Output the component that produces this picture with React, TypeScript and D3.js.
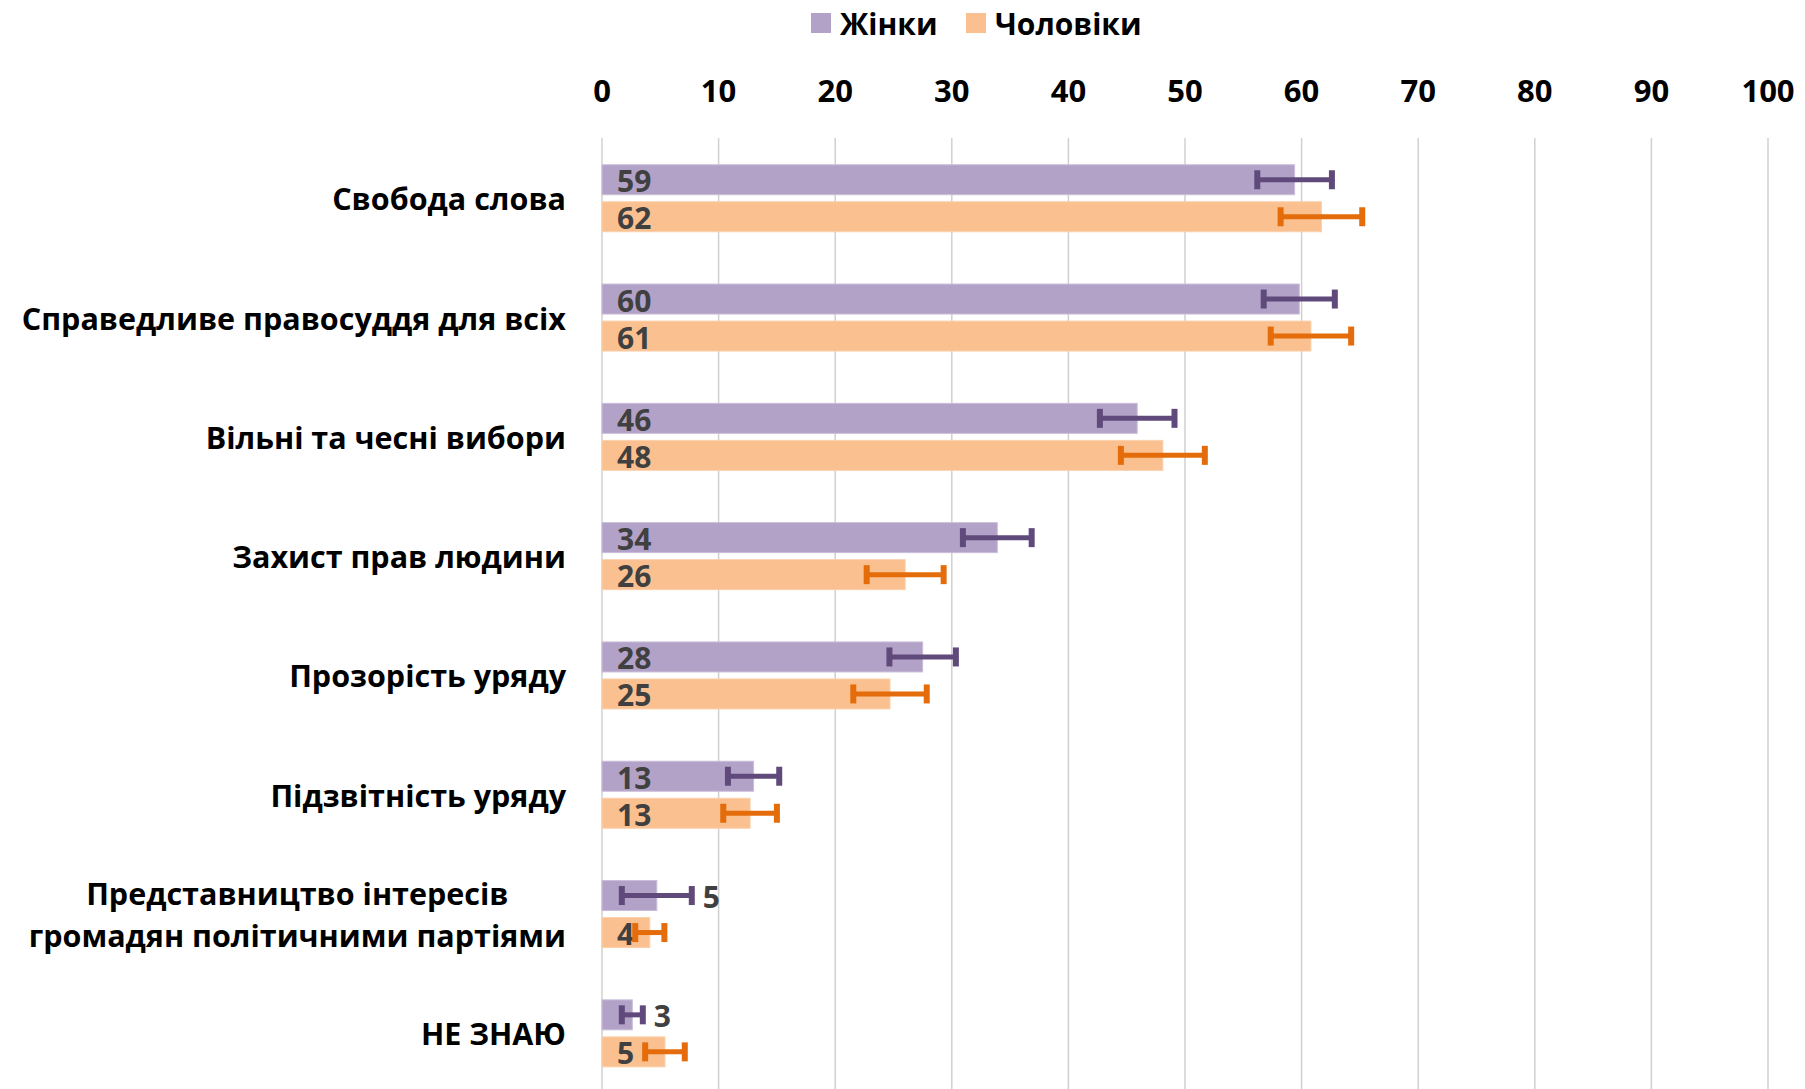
import { useEffect, useRef } from "react";
import * as d3 from "d3";

const categories = [
  ["Свобода слова"],
  ["Справедливе правосуддя для всіх"],
  ["Вільні та чесні вибори"],
  ["Захист прав людини"],
  ["Прозорість уряду"],
  ["Підзвітність уряду"],
  ["Представництво інтересів", "громадян політичними партіями"],
  ["НЕ ЗНАЮ"],
];

const seriesNames = ["Жінки", "Чоловіки"];

// bar values (as drawn) and their rounded labels
const womenValues = [59.4, 59.8, 45.9, 33.9, 27.5, 13.0, 4.7, 2.6];
const menValues = [61.7, 60.8, 48.1, 26.0, 24.7, 12.7, 4.1, 5.4];
const womenLabels = [59, 60, 46, 34, 28, 13, 5, 3];
const menLabels = [62, 61, 48, 26, 25, 13, 4, 5];

// error margins (+/-)
const womenErrors = [3.2, 3.05, 3.2, 2.95, 2.85, 2.2, 3.0, 0.9];
const menErrors = [3.5, 3.45, 3.6, 3.3, 3.15, 2.3, 1.25, 1.7];

// where the data label sits: inside the base, or past the error bar
const womenLabelPos = ["base", "base", "base", "base", "base", "base", "out", "out"];
const menLabelPos = ["base", "base", "base", "base", "base", "base", "base", "base"];

const xTicks = [0, 10, 20, 30, 40, 50, 60, 70, 80, 90, 100];

const barColors = ["#B3A2C7", "#FAC090"];
const barEdges = ["#C9BDD9", "#FBD0AC"];
const errColors = ["#604A7B", "#E46C0A"];

const FONT = "'Open Sans', 'Noto Sans', sans-serif";

export default function App() {
  const svgRef = useRef<SVGSVGElement>(null);
  const width = 1805;
  const height = 1089;

  useEffect(() => {
    if (!svgRef.current) return;
    document.body.style.margin = "0";

    const svg = d3.select(svgRef.current);
    svg.selectAll("*").remove();

    const x = d3.scaleLinear().domain([0, 100]).range([602, 1768]);

    const y = d3
      .scaleBand<number>()
      .domain(d3.range(categories.length))
      .range([138.6, 138.6 + 8 * 119.3])
      .padding(0);

    const inner = d3
      .scaleBand<number>()
      .domain([0, 1])
      .range([-33.5, 33.5])
      .paddingInner(0.19)
      .paddingOuter(0);

    const gridTop = 138;

    // Gridlines
    svg
      .append("g")
      .selectAll("line")
      .data(xTicks)
      .join("line")
      .attr("x1", (d) => x(d))
      .attr("x2", (d) => x(d))
      .attr("y1", gridTop)
      .attr("y2", height)
      .attr("stroke", "#D0D0D0")
      .attr("stroke-width", 1.5);

    // Tick labels on top
    svg
      .append("g")
      .selectAll("text")
      .data(xTicks)
      .join("text")
      .attr("x", (d) => x(d))
      .attr("y", 90)
      .attr("text-anchor", "middle")
      .attr("dominant-baseline", "central")
      .attr("font-family", FONT)
      .attr("font-weight", "bold")
      .attr("font-size", "31px")
      .attr("fill", "#000")
      .text((d) => d);

    // Category labels
    const labelRight = 566;
    categories.forEach((lines, i) => {
      const cy = y(i)! + y.bandwidth() / 2;
      const lh = 42.6;
      const g = svg.append("g");
      const texts = lines.map((ln, j) =>
        g
          .append("text")
          .attr("y", cy + (j - (lines.length - 1) / 2) * lh)
          .attr("dominant-baseline", "central")
          .attr("text-anchor", "middle")
          .attr("font-family", FONT)
          .attr("font-weight", "bold")
          .attr("font-size", "30.5px")
          .attr("fill", "#000")
          .text(ln)
      );
      const widths = texts.map((t) => (t.node() as SVGTextElement).getComputedTextLength());
      const maxW = d3.max(widths) || 0;
      texts.forEach((t) => t.attr("x", labelRight - maxW / 2));
    });

    const series = [
      { values: womenValues, labels: womenLabels, errors: womenErrors, pos: womenLabelPos },
      { values: menValues, labels: menLabels, errors: menErrors, pos: menLabelPos },
    ];

    series.forEach((s, si) => {
      const g = svg.append("g");
      s.values.forEach((v, i) => {
        const top = y(i)! + y.bandwidth() / 2 + inner(si)!;
        const bh = inner.bandwidth();
        const cy = top + bh / 2;

        g.append("rect")
          .attr("x", x(0))
          .attr("y", top)
          .attr("width", x(v) - x(0))
          .attr("height", bh)
          .attr("fill", barColors[si])
          .attr("stroke", barEdges[si])
          .attr("stroke-width", 1);

        // data label
        const lx = s.pos[i] === "out" ? x(v + s.errors[i]) + 11 : x(0) + 15;
        g.append("text")
          .attr("x", lx)
          .attr("y", cy + 1)
          .attr("dominant-baseline", "central")
          .attr("font-family", FONT)
          .attr("font-weight", "bold")
          .attr("font-size", "30px")
          .attr("fill", "#404040")
          .text(s.labels[i]);

        // error bar
        const x1 = x(v - s.errors[i]);
        const x2 = x(v + s.errors[i]);
        g.append("line")
          .attr("x1", x1)
          .attr("x2", x2)
          .attr("y1", cy)
          .attr("y2", cy)
          .attr("stroke", errColors[si])
          .attr("stroke-width", 5);
        [x1, x2].forEach((ex) => {
          g.append("line")
            .attr("x1", ex)
            .attr("x2", ex)
            .attr("y1", cy - 9.5)
            .attr("y2", cy + 9.5)
            .attr("stroke", errColors[si])
            .attr("stroke-width", 6);
        });
      });
    });

    // Legend
    const legendX = [811, 966];
    seriesNames.forEach((name, i) => {
      svg
        .append("rect")
        .attr("x", legendX[i])
        .attr("y", 13)
        .attr("width", 20)
        .attr("height", 20)
        .attr("fill", barColors[i]);
      svg
        .append("text")
        .attr("x", legendX[i] + 29)
        .attr("y", 23)
        .attr("dominant-baseline", "central")
        .attr("font-family", FONT)
        .attr("font-weight", "bold")
        .attr("font-size", "30px")
        .attr("fill", "#000")
        .text(name);
    });
  }, []);

  return (
    <svg
      ref={svgRef}
      width={width}
      height={height}
      style={{ display: "block", background: "#fff" }}
    ></svg>
  );
}
